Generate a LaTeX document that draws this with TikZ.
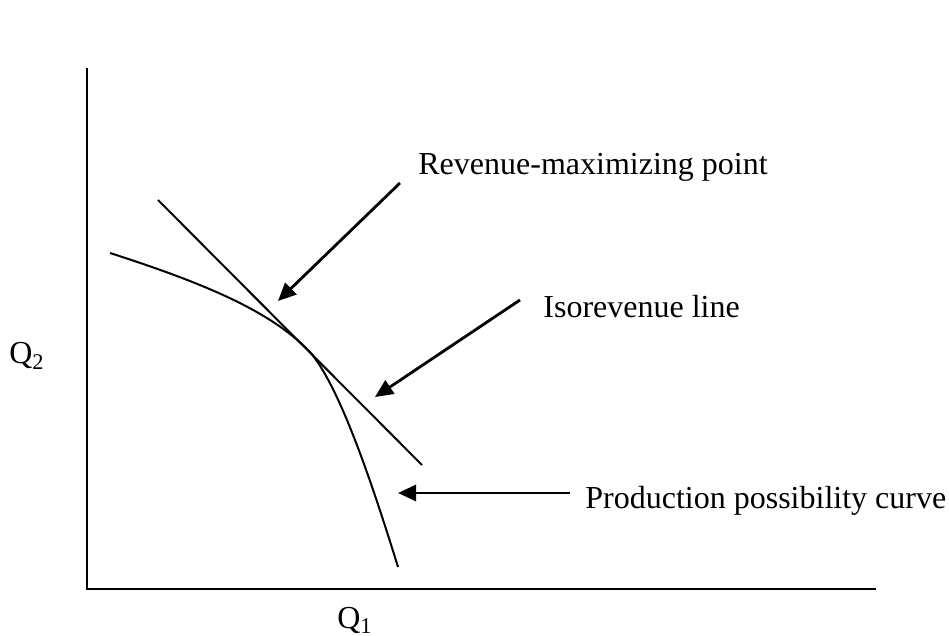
\documentclass[tikz,border=0pt]{standalone}
\usepackage{fontspec}
\setmainfont{Liberation Serif}
\usetikzlibrary{arrows.meta}
\begin{document}
\begin{tikzpicture}[x=0.5pt, y=-0.5pt, font=\fontsize{16}{19}\selectfont,
	pointer/.style={line width=1.4pt, -{Triangle[length=9pt, width=8pt]}},
	lbl/.style={anchor=base west, inner sep=0pt}]
	\useasboundingbox (0,0) rectangle (949,636);
	% axes
	\coordinate (top) at (87,68);
	\coordinate (origin) at (87,589);
	\coordinate (right) at (876,589);
	\draw[line width=1.3pt] (top) -- (origin) -- (right);
	\node (q2) at (27,356) {Q\textsubscript{2}};
	\node (q1) at (355,620) {Q\textsubscript{1}};
	% isorevenue line and production possibility curve
	\coordinate (iso1) at (158,200);
	\coordinate (iso2) at (422,465);
	\draw[line width=1pt] (iso1) -- (iso2);
	\draw[line width=1pt] (110,253) .. controls (200,282) and (270,310) .. (310,352)
		.. controls (338,385) and (368,470) .. (398,567);
	% labels and pointers
	\node[lbl] (rev) at (418,175) {Revenue-maximizing point};
	\node[lbl] (iso) at (543,318) {Isorevenue line};
	\node[lbl] (ppc) at (585,509) {Production possibility curve};
	\coordinate (revtip) at (278,301);
	\coordinate (isotip) at (375,397);
	\coordinate (ppctip) at (398,493);
	\draw[pointer] (400,183) -- (revtip);
	\draw[pointer] (520,300) -- (isotip);
	\draw[pointer] (570,493) -- (ppctip);
\end{tikzpicture}
\end{document}
